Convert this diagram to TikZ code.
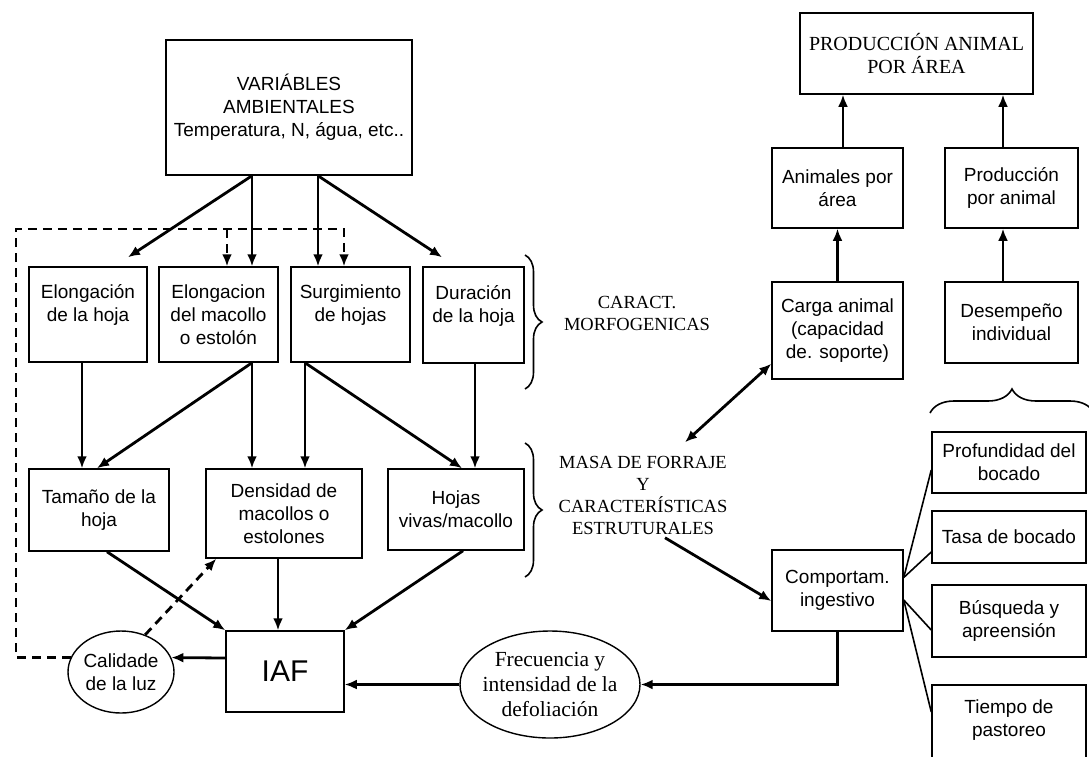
\documentclass[tikz,border=0pt]{standalone}
\usepackage{fontspec}
\setmainfont{Liberation Serif}
\setsansfont{Liberation Sans}
\usetikzlibrary{arrows.meta,shapes.geometric,decorations.pathreplacing}
\tikzset{
    caja/.style={draw, line width=1.5pt, inner sep=0pt, align=center, font=\sffamily\fontsize{19}{23}\selectfont},
    globo/.style={ellipse, draw, line width=1.4pt, inner sep=0pt, align=center},
    rotulo/.style={align=center, font=\rmfamily\fontsize{18.5}{22}\selectfont},
    flecha/.style={line width=2.8pt, -{Latex[length=12pt,width=10pt]}},
    flechas/.style={line width=2.8pt, {Latex[length=12pt,width=10pt]}-{Latex[length=12pt,width=10pt]}},
    flechad/.style={flecha, dash pattern=on 9pt off 6pt},
    linea/.style={line width=1.6pt},
    llave/.style={decorate, decoration={brace, amplitude=#1}, line width=1.6pt}
}

\begin{document}
\begin{tikzpicture}[x=1pt, y=-1pt]
    \useasboundingbox (0,0) rectangle (1089,756);
    % columna izquierda
    \node[caja, minimum width=246, minimum height=135] (var) at (289,107.5) {VARIÁBLES\\AMBIENTALES\\Temperatura, N, água, etc..};
    \node[caja, minimum width=118, minimum height=95]  (elh) at ( 88,314.5) {Elongación\\de la hoja\\~};
    \node[caja, minimum width=119, minimum height=95]  (elm) at (218.5,314.5) {Elongacion\\del macollo\\o estolón};
    \node[caja, minimum width=119, minimum height=95]  (sur) at (350.5,314.5) {Surgimiento\\de hojas\\~};
    \node[caja, minimum width=101, minimum height=96]  (dur) at (473.5,315) {Duración\\de la hoja\\~};
    \node[caja, minimum width=140, minimum height=82]  (tam) at ( 99,510) {Tamaño de la\\hoja};
    \node[caja, minimum width=156, minimum height=89]  (den) at (284,513.5) {Densidad de\\macollos o\\estolones};
    \node[caja, minimum width=136, minimum height=81]  (hoj) at (456,509.5) {Hojas\\vivas/macollo};
    \node[caja, minimum width=118, minimum height=81, font=\sffamily\fontsize{30}{34}\selectfont] (iaf) at (285,671.5) {IAF};
    \node[globo, minimum width=106, minimum height=82, inner xsep=-4pt, font=\sffamily\fontsize{19}{23}\selectfont] (cal) at (121,672) {Calidade\\de la luz};
    \node[globo, minimum width=180, minimum height=107, inner xsep=-15pt, font=\rmfamily\fontsize{21.5}{25}\selectfont] (fre) at (550,684.5) {Frecuencia y\\intensidad de la\\defoliación};
    \node[rotulo] (mor) at (637,313) {CARACT.\\MORFOGENICAS};
    \node[rotulo] (mas) at (643,495) {MASA DE FORRAJE\\Y\\CARACTERÍSTICAS\\ESTRUTURALES};
    % columna derecha
    \node[caja, minimum width=233, minimum height=81, font=\rmfamily\fontsize{20}{23}\selectfont] (pro) at (916.5,53.5) {PRODUCCIÓN ANIMAL\\POR ÁREA};
    \node[caja, minimum width=131, minimum height=80] (ani) at (837.5,188) {Animales por\\área};
    \node[caja, minimum width=133, minimum height=80] (ppa) at (1011.5,188) {Producción\\por animal};
    \node[caja, minimum width=131, minimum height=97] (car) at (837.5,330.5) {Carga animal\\(capacidad\\de. soporte)};
    \node[caja, minimum width=133, minimum height=81] (des) at (1011.5,322.5) {Desempeño\\individual};
    \node[caja, minimum width=131, minimum height=81] (com) at (837.5,590.5) {Comportam.\\ingestivo};
    \node[caja, minimum width=154, minimum height=61] (pfd) at (1009,462.5) {Profundidad del\\bocado};
    \node[caja, minimum width=154, minimum height=52] (tas) at (1009,537) {Tasa de bocado};
    \node[caja, minimum width=154, minimum height=72] (bus) at (1009,621) {Búsqueda y\\apreensión};
    \node[caja, minimum width=154, minimum height=90] (tie) at (1009,730) {Tiempo de\\pastoreo\\~};
    \coordinate (rb) at (16,229);

    \draw[llave=17pt] (525,255) -- (525,389);
    \draw[llave=17pt] (525,443) -- (525,577);
    \draw[llave=24pt] (930,413) -- (1094,413);

    \draw[flecha] ([xshift=-37pt]var.south) -- ([xshift=40pt,yshift=9pt]elh.north);
    \draw[flecha] ([xshift=-37pt]var.south) -- ([xshift=-37pt]var.south |- elm.north);
    \draw[flecha] ([xshift=29pt]var.south) -- ([xshift=29pt]var.south |- sur.north);
    \draw[flecha] ([xshift=29pt]var.south) -- ([xshift=-31.5pt,yshift=9pt]dur.north);
    \draw[flechad] (cal.164) -| (rb) -| ([xshift=-6.5pt]sur.north);
    \draw[flechad] ([xshift=8.5pt]elm.north |- rb) -- ([xshift=8.5pt]elm.north);
    \draw[flechad] (cal.57) -- ([xshift=11pt]den.south west);

    \draw[flecha] ([xshift=-6pt]elh.south) -- ([xshift=-6pt]elh.south |- tam.north);
    \draw[flecha] ([xshift=33.5pt]elm.south) -- ([xshift=-2pt]tam.north);
    \draw[flecha] ([xshift=33.5pt]elm.south) -- ([xshift=33.5pt]elm.south |- den.north);
    \draw[flecha] ([xshift=-45.5pt]sur.south) -- ([xshift=-45.5pt]sur.south |- den.north);
    \draw[flecha] ([xshift=-45.5pt]sur.south) -- ([xshift=6pt]hoj.north);
    \draw[flecha] ([xshift=1.5pt]dur.south) -- ([xshift=1.5pt]dur.south |- hoj.north);

    \draw[flecha] ([xshift=8pt]tam.south) -- (iaf.north west);
    \draw[flecha] ([xshift=-6pt]den.south) -- ([xshift=-6pt]den.south |- iaf.north);
    \draw[flecha] ([xshift=7pt]hoj.south) -- (iaf.north east);
    \draw[flecha] ([yshift=13.5pt]iaf.west) -- (cal.16);
    \draw[flecha] (fre.west) -- (fre.west -| iaf.east);
    \draw[flecha] (com.south) |- (fre.east);

    \draw[flecha] (car.north) -- (ani.south);
    \draw[flecha] ([xshift=5.5pt]ani.north) -- ([xshift=5.5pt]ani.north |- pro.south);
    \draw[flecha] ([xshift=-8.5pt]ppa.north) -- ([xshift=-8.5pt]ppa.north |- pro.south);
    \draw[flecha] ([xshift=-8.5pt]des.north) -- ([xshift=-8.5pt]des.north |- ppa.south);
    \draw[flechas] ([yshift=16pt]car.south west) -- ([xshift=42pt,yshift=10pt]mas.north);
    \draw[flecha] ([xshift=22pt]mas.south) -- ([yshift=-10.5pt]com.west);

    \draw[linea] ([yshift=13pt]com.east) -- ([yshift=-7.5pt]pfd.west);
    \draw[linea] ([yshift=13pt]com.east) -- ([yshift=-15pt]tas.west);
    \draw[linea] ([yshift=-9.5pt]com.east) -- ([yshift=-9pt]bus.west);
    \draw[linea] ([yshift=-9.5pt]com.east) -- ([yshift=18pt]tie.west);
\end{tikzpicture}
\end{document}
